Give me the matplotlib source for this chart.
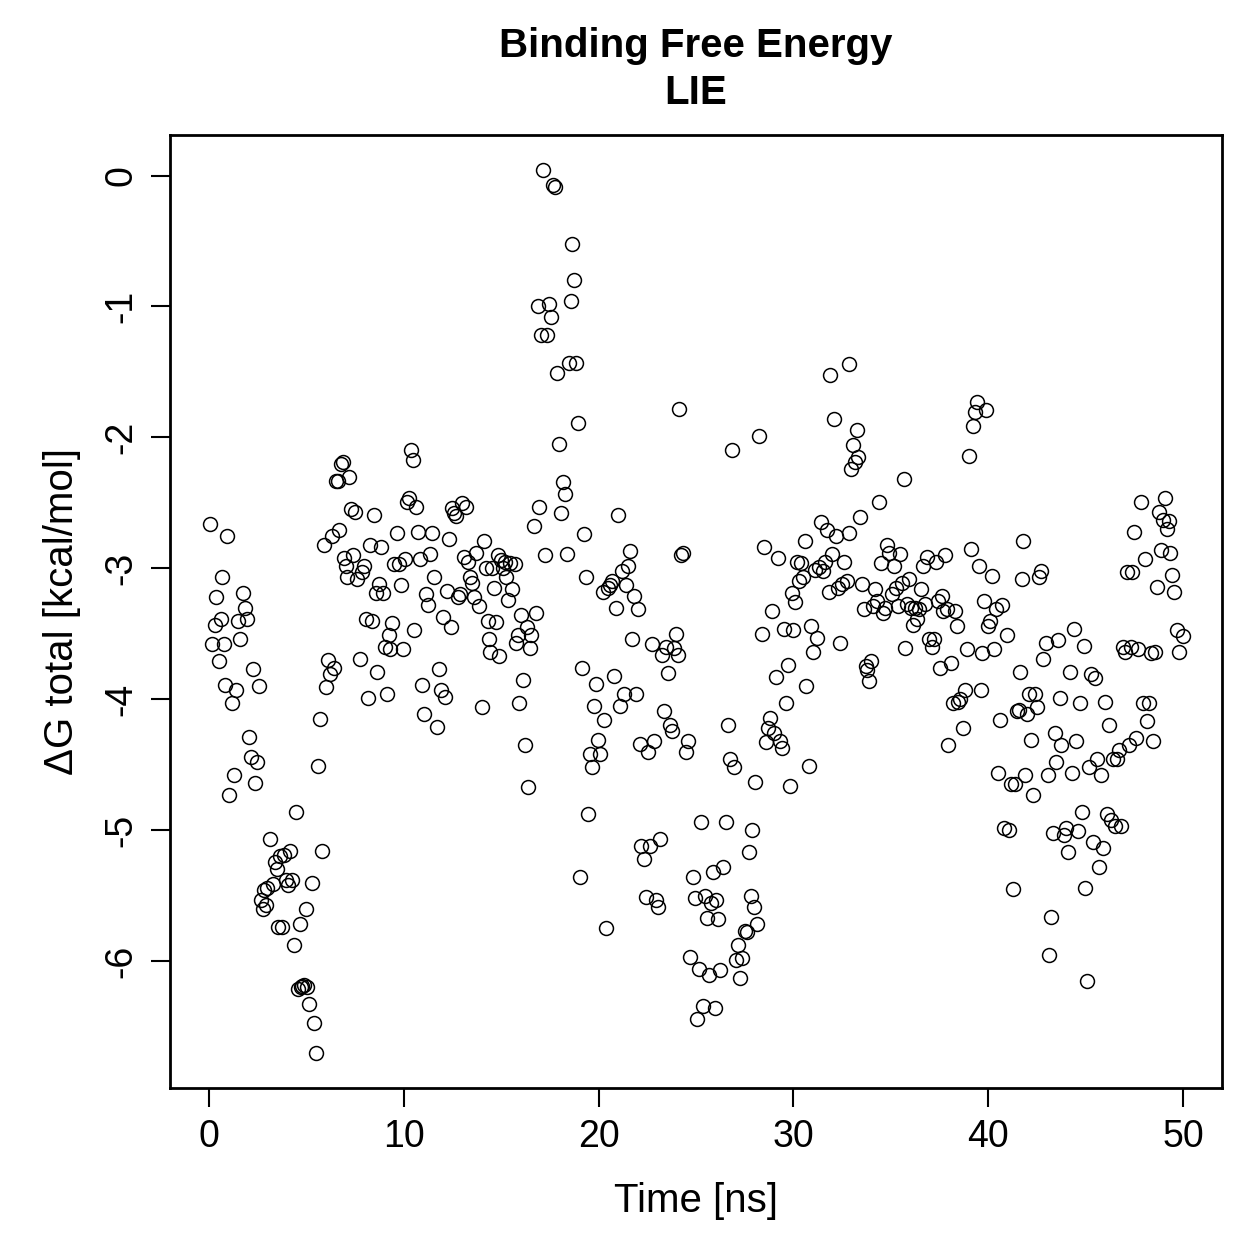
import numpy as np
import matplotlib
matplotlib.use('Agg')
import matplotlib.pyplot as plt

plt.rcParams['font.family'] = ['Liberation Sans', 'DejaVu Sans']

# Time [ns] and dG total [kcal/mol]
time_ns = [
    0.05, 0.15, 0.3, 0.35, 0.5, 0.6, 0.65, 0.75, 0.85, 0.95, 1.05, 1.2, 1.3, 1.4, 1.5, 1.6, 1.75, 1.85, 1.95,
    2.05, 2.15, 2.25, 2.35, 2.45, 2.55, 2.65, 2.75, 2.85, 2.95, 3.0, 3.15, 3.3, 3.4, 3.5, 3.55, 3.65, 3.75,
    3.85, 3.95, 4.05, 4.15, 4.25, 4.35, 4.45, 4.55, 4.65, 4.7, 4.8, 4.9, 5.0, 5.05, 5.15, 5.3, 5.4, 5.5,
    5.6, 5.7, 5.8, 5.9, 6.0, 6.1, 6.2, 6.3, 6.4, 6.5, 6.6, 6.65, 6.8, 6.9, 6.95, 7.05, 7.1, 7.2, 7.3, 7.4,
    7.5, 7.6, 7.75, 7.85, 7.95, 8.05, 8.15, 8.25, 8.35, 8.45, 8.55, 8.65, 8.75, 8.85, 8.95, 9.05, 9.15,
    9.25, 9.3, 9.4, 9.5, 9.65, 9.75, 9.85, 9.95, 10.05, 10.15, 10.25, 10.35, 10.45, 10.55, 10.65, 10.75,
    10.85, 10.95, 11.05, 11.15, 11.25, 11.35, 11.45, 11.55, 11.7, 11.8, 11.9, 12.0, 12.1, 12.2, 12.3, 12.4,
    12.5, 12.6, 12.7, 12.8, 12.9, 13.0, 13.1, 13.2, 13.3, 13.4, 13.5, 13.6, 13.7, 13.85, 14.0, 14.1, 14.2,
    14.3, 14.35, 14.45, 14.55, 14.65, 14.75, 14.85, 14.9, 15.0, 15.1, 15.2, 15.25, 15.35, 15.45, 15.55,
    15.7, 15.75, 15.85, 15.9, 16.0, 16.1, 16.2, 16.3, 16.4, 16.5, 16.55, 16.7, 16.8, 16.9, 16.95, 17.05,
    17.15, 17.25, 17.35, 17.45, 17.55, 17.65, 17.75, 17.85, 17.95, 18.05, 18.15, 18.3, 18.4, 18.5, 18.6,
    18.65, 18.75, 18.85, 18.95, 19.05, 19.15, 19.25, 19.35, 19.45, 19.55, 19.65, 19.75, 19.85, 19.95,
    20.05, 20.2, 20.3, 20.4, 20.5, 20.6, 20.7, 20.8, 20.9, 21.0, 21.1, 21.2, 21.3, 21.4, 21.5, 21.6, 21.7,
    21.8, 21.9, 22.0, 22.1, 22.2, 22.35, 22.45, 22.55, 22.65, 22.75, 22.85, 22.95, 23.05, 23.15, 23.25,
    23.35, 23.45, 23.55, 23.65, 23.75, 23.85, 23.95, 24.05, 24.15, 24.25, 24.35, 24.5, 24.6, 24.7, 24.85,
    24.95, 25.05, 25.15, 25.25, 25.35, 25.45, 25.55, 25.65, 25.75, 25.85, 25.95, 26.05, 26.15, 26.25,
    26.4, 26.55, 26.65, 26.75, 26.85, 26.95, 27.05, 27.15, 27.25, 27.35, 27.5, 27.6, 27.7, 27.8, 27.85,
    27.95, 28.05, 28.15, 28.25, 28.4, 28.5, 28.6, 28.7, 28.8, 28.9, 29.0, 29.1, 29.2, 29.3, 29.4, 29.5,
    29.6, 29.7, 29.8, 29.9, 30.0, 30.1, 30.2, 30.3, 30.4, 30.5, 30.6, 30.65, 30.8, 30.9, 31.0, 31.1, 31.2,
    31.3, 31.4, 31.5, 31.6, 31.7, 31.8, 31.9, 32.0, 32.1, 32.2, 32.3, 32.4, 32.5, 32.6, 32.75, 32.85,
    32.85, 32.95, 33.05, 33.15, 33.25, 33.3, 33.4, 33.5, 33.6, 33.7, 33.8, 33.9, 34.0, 34.1, 34.2, 34.3,
    34.4, 34.5, 34.6, 34.7, 34.8, 34.9, 35.05, 35.15, 35.25, 35.35, 35.45, 35.55, 35.65, 35.75, 35.85,
    35.95, 36.05, 36.15, 36.25, 36.35, 36.45, 36.55, 36.65, 36.75, 36.85, 36.95, 37.1, 37.2, 37.3, 37.4,
    37.5, 37.6, 37.7, 37.8, 37.9, 37.95, 38.1, 38.2, 38.3, 38.4, 38.45, 38.55, 38.7, 38.8, 38.9, 39.0,
    39.1, 39.2, 39.3, 39.4, 39.5, 39.6, 39.7, 39.8, 39.9, 40.0, 40.1, 40.2, 40.3, 40.4, 40.5, 40.6, 40.7,
    40.8, 40.95, 41.05, 41.15, 41.25, 41.35, 41.45, 41.55, 41.65, 41.75, 41.8, 41.9, 42.0, 42.1, 42.2,
    42.3, 42.4, 42.5, 42.6, 42.7, 42.8, 42.95, 43.05, 43.1, 43.2, 43.3, 43.4, 43.5, 43.6, 43.7, 43.75,
    43.9, 44.0, 44.1, 44.2, 44.3, 44.4, 44.5, 44.6, 44.7, 44.8, 44.9, 44.95, 45.05, 45.15, 45.25, 45.35,
    45.5, 45.6, 45.7, 45.8, 45.9, 46.0, 46.1, 46.2, 46.3, 46.4, 46.5, 46.6, 46.7, 46.8, 46.9, 47.0, 47.1,
    47.2, 47.3, 47.4, 47.5, 47.6, 47.7, 47.85, 47.95, 48.05, 48.15, 48.25, 48.35, 48.45, 48.55, 48.65,
    48.75, 48.85, 48.95, 49.05, 49.15, 49.25, 49.35, 49.45, 49.55, 49.7, 49.8, 50.0,
]
dg_total = [
    -2.66, -3.58, -3.43, -3.22, -3.71, -3.39, -3.07, -3.58, -3.89, -2.75, -4.73, -4.03, -4.58, -3.93, -3.40,
    -3.54, -3.19, -3.30, -3.39, -4.29, -4.44, -3.77, -4.64, -4.48, -3.90, -5.53, -5.60, -5.46, -5.57, -5.44,
    -5.07, -5.41, -5.24, -5.30, -5.74, -5.20, -5.74, -5.19, -5.38, -5.42, -5.16, -5.38, -5.88, -4.86, -6.21,
    -5.72, -6.20, -6.19, -6.18, -5.60, -6.20, -6.33, -5.40, -6.47, -6.70, -4.51, -4.15, -5.16, -2.82, -3.91,
    -3.70, -3.81, -2.75, -3.76, -2.33, -2.33, -2.71, -2.20, -2.19, -2.92, -2.98, -3.07, -2.30, -2.55, -2.90,
    -2.57, -3.08, -3.69, -3.03, -2.98, -3.39, -3.99, -2.82, -3.40, -2.59, -3.19, -3.79, -3.12, -2.84, -3.19,
    -3.60, -3.96, -3.51, -3.62, -3.42, -2.97, -2.73, -2.97, -3.13, -3.62, -2.93, -2.49, -2.46, -2.10, -2.17,
    -3.47, -2.53, -2.72, -2.93, -3.89, -4.11, -3.20, -3.28, -2.89, -2.73, -3.07, -4.21, -3.77, -3.93, -3.37,
    -3.98, -3.17, -2.78, -3.45, -2.54, -2.58, -2.60, -3.22, -3.20, -2.50, -2.91, -2.53, -2.95, -3.07, -3.11,
    -3.22, -2.88, -3.29, -4.06, -2.79, -3.00, -3.40, -3.54, -3.64, -3.00, -3.15, -3.41, -2.90, -3.67, -2.94,
    -3.00, -2.95, -3.07, -3.24, -2.96, -3.16, -2.97, -3.57, -3.51, -4.03, -3.36, -3.85, -4.35, -3.45, -4.67,
    -3.61, -3.51, -2.68, -3.34, -1.00, -2.53, -1.22, 0.04, -2.90, -1.22, -0.98, -1.08, -0.07, -0.09, -1.51,
    -2.05, -2.58, -2.34, -2.43, -2.89, -1.43, -0.96, -0.52, -0.80, -1.43, -1.89, -5.36, -3.76, -2.74, -3.07,
    -4.88, -4.42, -4.52, -4.05, -3.88, -4.31, -4.42, -3.18, -4.16, -5.75, -3.15, -3.13, -3.10, -3.82, -3.30,
    -2.59, -4.05, -3.02, -3.96, -3.13, -2.98, -2.87, -3.54, -3.21, -3.96, -3.31, -4.34, -5.12, -5.22, -5.51,
    -4.40, -5.12, -3.58, -4.32, -5.53, -5.59, -5.07, -3.66, -4.09, -3.60, -3.80, -4.20, -4.24, -3.61, -3.50,
    -3.66, -1.78, -2.90, -2.88, -4.40, -4.32, -5.97, -5.36, -5.52, -6.44, -6.06, -4.94, -6.34, -5.50, -5.67,
    -6.11, -5.56, -5.32, -6.36, -5.53, -5.68, -6.07, -5.28, -4.94, -4.20, -4.46, -2.10, -4.52, -5.99, -5.88,
    -6.13, -5.98, -5.77, -5.78, -5.17, -5.50, -5.00, -5.59, -4.63, -5.72, -1.99, -3.50, -2.84, -4.33, -4.22,
    -4.14, -3.33, -4.26, -3.83, -2.92, -4.32, -4.37, -3.46, -4.03, -3.74, -4.66, -3.19, -3.47, -3.26, -2.95,
    -3.10, -2.96, -3.07, -2.79, -3.90, -4.51, -3.44, -3.64, -3.01, -3.53, -2.99, -2.65, -3.02, -2.95, -2.71,
    -3.18, -1.52, -2.89, -1.86, -2.75, -3.15, -3.57, -3.12, -2.95, -3.10, -2.73, -1.44, -2.24, -2.06, -2.19,
    -1.94, -2.15, -2.61, -3.12, -3.31, -3.75, -3.78, -3.86, -3.71, -3.29, -3.16, -3.25, -2.49, -2.96, -3.34,
    -3.30, -2.82, -2.88, -3.20, -2.98, -3.15, -3.29, -2.89, -3.11, -2.32, -3.61, -3.27, -3.08, -3.30, -3.43,
    -3.30, -3.39, -3.31, -3.16, -2.98, -3.27, -2.91, -3.54, -3.60, -3.54, -2.95, -3.25, -3.76, -3.21, -3.33,
    -2.90, -3.31, -4.35, -3.72, -4.03, -3.33, -3.44, -4.02, -4.00, -4.22, -3.93, -3.62, -2.14, -2.85, -1.91,
    -1.81, -1.73, -2.98, -3.93, -3.65, -3.25, -1.79, -3.44, -3.40, -3.06, -3.62, -3.31, -4.56, -4.16, -3.28,
    -4.98, -3.51, -5.00, -4.65, -5.45, -4.65, -4.09, -4.08, -3.79, -3.08, -2.79, -4.58, -4.11, -3.96, -4.31,
    -4.73, -3.96, -4.06, -3.07, -3.02, -3.69, -3.57, -4.58, -5.95, -5.66, -5.02, -4.26, -4.48, -3.55, -3.99,
    -4.35, -5.04, -4.98, -5.17, -3.79, -4.56, -3.46, -4.32, -5.01, -4.03, -4.86, -3.59, -5.44, -6.15, -4.52,
    -3.81, -5.09, -3.84, -4.46, -5.28, -4.58, -5.14, -4.02, -4.88, -4.20, -4.92, -4.46, -4.97, -4.46, -4.39,
    -4.97, -3.60, -3.64, -3.03, -4.35, -3.60, -3.03, -2.72, -4.30, -3.62, -2.49, -4.03, -2.93, -4.17, -4.03,
    -3.65, -4.32, -3.64, -3.14, -2.57, -2.86, -2.63, -2.46, -2.70, -2.64, -2.88, -3.05, -3.18, -3.47, -3.64,
    -3.52,
]

x = np.array(time_ns)
y = np.array(dg_total)

fig = plt.figure(figsize=(12.59, 12.59), dpi=100)
ax = fig.add_axes([0.135, 0.1358, 0.8357, 0.757])

ax.plot(x, y, 'o', markersize=10, markerfacecolor='none', markeredgecolor='black', markeredgewidth=1.1)

# R style 4% padding
pad = 0.04 * (y.max() - y.min())
ax.set_xlim(-2, 52)
ax.set_ylim(y.min() - pad, y.max() + pad)

ax.set_xticks([0, 10, 20, 30, 40, 50])
ax.set_yticks([0, -1, -2, -3, -4, -5, -6])
ax.set_yticklabels(['0', '-1', '-2', '-3', '-4', '-5', '-6'], rotation=90, va='center')
ax.tick_params(axis='both', direction='out', length=14, width=1.5, labelsize=27, pad=8)
for s in ax.spines.values():
    s.set_linewidth(2)

ax.set_xlabel('Time [ns]', fontsize=29, labelpad=20)
ax.set_ylabel('ΔG total [kcal/mol]', fontsize=29, labelpad=16)
ax.set_title('Binding Free Energy\nLIE', fontsize=29, fontweight='bold', pad=22, linespacing=1.32)

fig.savefig('out.png', dpi=100)
